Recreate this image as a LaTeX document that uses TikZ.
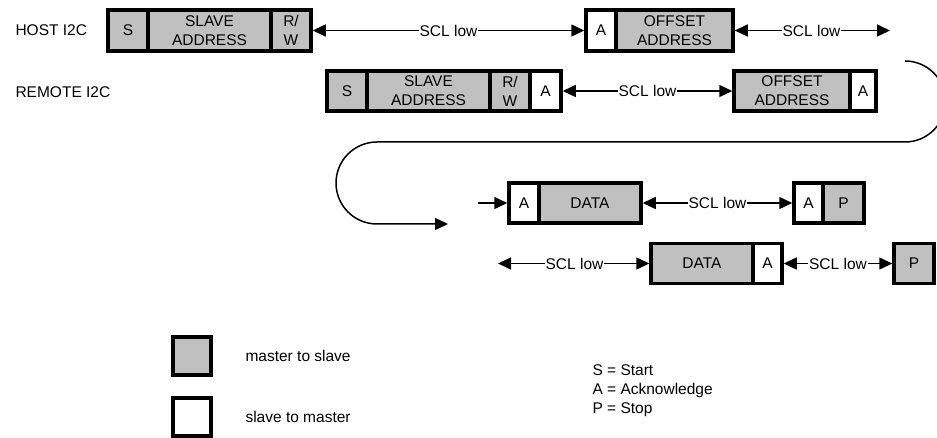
\documentclass[tikz,border=0pt]{standalone}
\usepackage{fontspec}
\setmainfont{Liberation Sans}
\usetikzlibrary{arrows.meta}
\definecolor{boxgray}{HTML}{C0C0C0}

\begin{document}
\begin{tikzpicture}
    [x=1pt, y=-1pt,
    font=\fontsize{15.5}{19}\selectfont,
    >={Triangle[length=13pt,width=12pt]},
    cell/.style = {draw, line width=3.5pt, inner sep=0pt, outer sep=0pt,
                   minimum height=40pt, align=center},
    mts/.style = {cell, fill=boxgray},
    stm/.style = {cell, fill=white},
    wait/.style = {<->, line width=1.5pt, shorten <=1.75pt, shorten >=1.75pt},
    low/.style = {fill=white, inner sep=1pt},
    key/.style = {draw, line width=4pt, minimum width=38pt, minimum height=38pt}]
    \clip (0,0) rectangle (937,438);
    % Host I2C
    \node[anchor=west] (host) at (12,30) {HOST I2C};
    \node[mts, minimum width=40pt, minimum height=41pt] (hs) at (128,30.5) {S};
    \node[mts, minimum width=123pt, minimum height=41pt] (hsa) at (209.5,30.5) {SLAVE\\ADDRESS};
    \node[mts, minimum width=40pt, minimum height=41pt] (hrw) at (291,30.5) {R/\\W};
    \node[stm, minimum width=30pt, minimum height=41pt] (ha) at (601,30.5) {A};
    \node[mts, minimum width=117pt, minimum height=41pt] (hoff) at (674.5,30.5) {OFFSET\\ADDRESS};
    \coordinate (hend) at (890,30.5);
    \draw[wait] (hrw.east) -- (ha.west) node[low, midway] {SCL low};
    \draw[wait, shorten >=0pt] (hoff.east) -- (hend) node[low, midway] {SCL low};
    % Remote I2C
    \node[anchor=west] (remote) at (12,92) {REMOTE I2C};
    \node[mts, minimum width=40pt] (rs) at (347,91) {S};
    \node[mts, minimum width=123pt] (rsa) at (428.5,91) {SLAVE\\ADDRESS};
    \node[mts, minimum width=40pt] (rrw) at (510,91) {R/\\W};
    \node[stm, minimum width=31pt] (ra) at (545.5,91) {A};
    \node[mts, minimum width=116pt] (roff) at (792,91) {OFFSET\\ADDRESS};
    \node[stm, minimum width=26pt] (ra2) at (863,91) {A};
    \draw[wait] (ra.east) -- (roff.west) node[low, midway] {SCL low};
    % Wrap round to the next line
    \coordinate (wtop) at (905,61);
    \coordinate (wend) at (448,224);
    \draw[line width=1.5pt, ->] (wtop) arc[start angle=90, end angle=-90, radius=40.5pt]
        -- (377,142) arc[start angle=90, end angle=270, radius=41pt] -- (wend);
    % Data, host side
    \coordinate (din) at (478,203);
    \node[stm, minimum width=30pt] (da) at (524,203) {A};
    \node[mts, minimum width=102pt] (dd) at (590,203) {DATA};
    \node[stm, minimum width=29pt] (pa) at (808.5,203) {A};
    \node[mts, minimum width=41pt] (pp) at (843.5,203) {P};
    \draw[line width=1.5pt, ->, shorten >=1.75pt] (din) -- (da.west);
    \draw[wait] (dd.east) -- (pa.west) node[low, midway] {SCL low};
    % Data, remote side
    \coordinate (ein) at (498,263.5);
    \node[mts, minimum width=102pt] (ed) at (702,263.5) {DATA};
    \node[stm, minimum width=29pt] (ea) at (767.5,263.5) {A};
    \node[mts, minimum width=40pt] (ep) at (914,263.5) {P};
    \draw[wait, shorten <=0pt] (ein) -- (ed.west) node[low, midway] {SCL low};
    \draw[wait] (ea.east) -- (ep.west) node[low, midway] {SCL low};
    % Legend
    \node[key, fill=boxgray] (kgray) at (192,355.5) {};
    \node[key, fill=white] (kwhite) at (192,417) {};
    \node[anchor=west] (tgray) at (242,356) {master to slave};
    \node[anchor=west] (twhite) at (242,417) {slave to master};
    \node[anchor=west, align=left] (abbr) at (589,391) {S = Start\\A = Acknowledge\\P = Stop};
\end{tikzpicture}
\end{document}
